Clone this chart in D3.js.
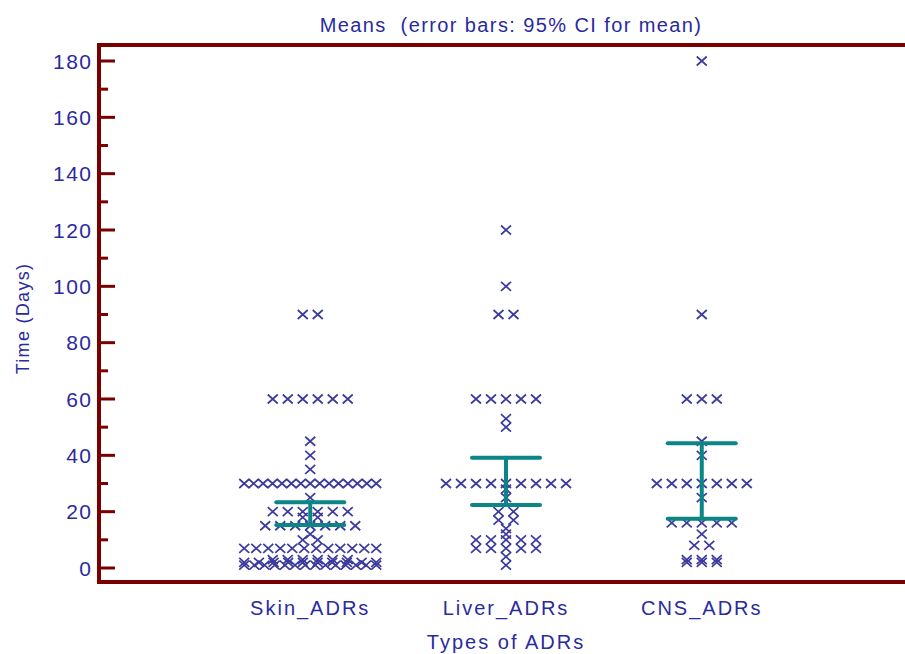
<!DOCTYPE html>
<html>
<head>
<meta charset="utf-8">
<script src="https://cdn.jsdelivr.net/npm/d3@7"></script>
<style>
  body { margin: 0; background: #fff; }
  text { font-family: "Liberation Sans", Arial, sans-serif; fill: #2a2aa0; }
</style>
</head>
<body>
<div id="chart"></div>
<script>
const categories = ["Skin_ADRs", "Liver_ADRs", "CNS_ADRs"];
const skinDays = [90, 90, 60, 60, 60, 60, 60, 60, 45, 40, 35,
  30, 30, 30, 30, 30, 30, 30, 30, 30, 30, 30, 30, 30, 30, 30,
  25, 20, 20, 20, 20, 20, 20, 18, 18, 15, 15, 15, 15, 15, 15, 15, 12, 10, 10,
  7, 7, 7, 7, 7, 7, 7, 7, 7, 7, 7, 7,
  3, 3, 3, 3, 3, 3, 2, 2, 2, 2, 2, 2, 2, 2, 2, 2,
  1, 1, 1, 1, 1, 1, 1, 1, 1, 1, 1, 1, 1, 1];
const liverDays = [120, 100, 90, 90, 60, 60, 60, 60, 60, 53, 50,
  30, 30, 30, 30, 30, 30, 30, 30, 30, 28, 25, 20, 20, 17, 17, 14, 12,
  10, 10, 10, 10, 10, 7, 7, 7, 7, 7, 4, 1];
const cnsDays = [180, 90, 60, 60, 60, 45, 40, 30, 30, 30, 30, 30, 30, 30, 25,
  16, 16, 16, 16, 16, 12, 8, 8, 3, 3, 3, 2, 2, 2];
// 95% CI for the mean, per category
const ciLower = [15.3, 22.4, 17.5];
const ciUpper = [23.3, 39.1, 44.3];
const yTicks = [0, 20, 40, 60, 80, 100, 120, 140, 160, 180];
const yMinorTicks = [10, 30, 50, 70, 90, 110, 130, 150, 170];

const W = 905, H = 654;
const frame = { left: 99, top: 45, bottom: 582, right: 913 };
const frameColor = "#7a0000";
const markColor = "#3b3b9c";
const barColor = "#0b8585";

const svg = d3.select("#chart").append("svg")
  .attr("width", W).attr("height", H);

const x = d3.scalePoint().domain(categories).range([frame.left, frame.right]).padding(1.079);
const y = d3.scaleLinear().domain([0, 180]).range([568, 61]);

// title
svg.append("text")
  .attr("x", 511).attr("y", 32)
  .attr("text-anchor", "middle")
  .style("font-size", "20px")
  .style("letter-spacing", "1.4px")
  .style("white-space", "pre")
  .text("Means  (error bars: 95% CI for mean)");

// y axis ticks (pointing inward) + labels
const yAxis = svg.append("g").attr("class", "y-axis");
yAxis.selectAll(".major").data(yTicks).join("line")
  .attr("x1", frame.left).attr("x2", frame.left + 16)
  .attr("y1", d => y(d)).attr("y2", d => y(d))
  .attr("stroke", frameColor).attr("stroke-width", 3);
yAxis.selectAll(".minor").data(yMinorTicks).join("line")
  .attr("class", "minor")
  .attr("x1", frame.left).attr("x2", frame.left + 9)
  .attr("y1", d => y(d)).attr("y2", d => y(d))
  .attr("stroke", frameColor).attr("stroke-width", 3);
yAxis.selectAll("text").data(yTicks).join("text")
  .attr("x", frame.left - 6.5).attr("y", d => y(d))
  .attr("dy", "0.36em")
  .attr("text-anchor", "end")
  .style("font-size", "21px")
  .style("letter-spacing", "1.5px")
  .text(d => d);

// y label
svg.append("text")
  .attr("transform", `translate(29,${(262 + 375) / 2}) rotate(-90)`)
  .attr("text-anchor", "middle")
  .style("font-size", "18px")
  .style("letter-spacing", "1.3px")
  .text("Time (Days)");

// category labels
svg.append("g").selectAll("text").data(categories).join("text")
  .attr("x", d => x(d)).attr("y", 615)
  .attr("text-anchor", "middle")
  .style("font-size", "20px")
  .style("letter-spacing", "2px")
  .text(d => d);

svg.append("text")
  .attr("x", 506).attr("y", 649)
  .attr("text-anchor", "middle")
  .style("font-size", "20px")
  .style("letter-spacing", "2px")
  .text("Types of ADRs");

// dots: identical values spread side by side
const groups = [skinDays, liverDays, cnsDays];
const points = [];
groups.forEach((vals, gi) => {
  const byValue = d3.group(vals, v => v);
  byValue.forEach((arr, v) => {
    const n = arr.length;
    const step = n > 1 ? Math.min(15, 132 / (n - 1)) : 0;
    arr.forEach((_, i) => points.push({ cat: categories[gi], value: v, dx: (i - (n - 1) / 2) * step }));
  });
});

svg.append("g").attr("class", "dots")
  .selectAll("path").data(points).join("path")
  .attr("transform", d => `translate(${x(d.cat) + d.dx},${y(d.value)})`)
  .attr("d", "M-5,-4.5L5,4.5M5,-4.5L-5,4.5")
  .attr("fill", "none")
  .attr("stroke", markColor)
  .attr("stroke-width", 1.7);

// error bars (95% CI)
const bars = svg.append("g").attr("class", "error-bars")
  .attr("stroke", barColor).attr("stroke-width", 4).attr("stroke-linecap", "round");
categories.forEach((c, i) => {
  const cx = x(c);
  bars.append("line").attr("x1", cx).attr("x2", cx).attr("y1", y(ciLower[i])).attr("y2", y(ciUpper[i]));
  bars.append("line").attr("x1", cx - 34).attr("x2", cx + 34).attr("y1", y(ciLower[i])).attr("y2", y(ciLower[i]));
  bars.append("line").attr("x1", cx - 34).attr("x2", cx + 34).attr("y1", y(ciUpper[i])).attr("y2", y(ciUpper[i]));
});

// frame
svg.append("path")
  .attr("d", `M${frame.right},${frame.top}H${frame.left}V${frame.bottom}H${frame.right}`)
  .attr("fill", "none")
  .attr("stroke", frameColor)
  .attr("stroke-width", 4);
</script>
</body>
</html>
